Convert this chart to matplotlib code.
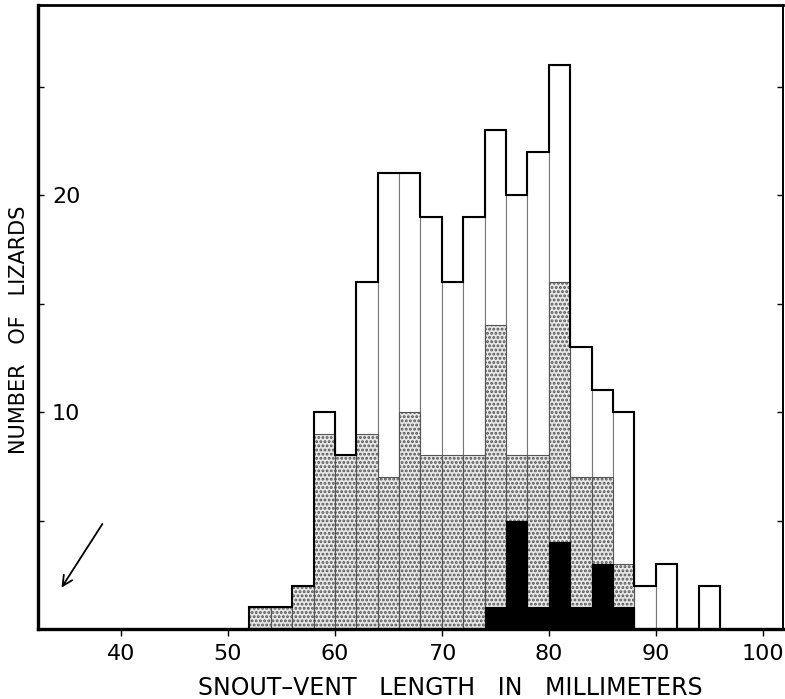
import numpy as np
import matplotlib
matplotlib.use('Agg')
import matplotlib.pyplot as plt

# Snout-vent length histogram, 2 mm classes
bin_starts = [52, 54, 56, 58, 60, 62, 64, 66, 68, 70, 72, 74, 76, 78, 80, 82, 84, 86, 88, 90, 92, 94]
bin_width = 2
total_counts = [1, 1, 2, 10, 8, 16, 21, 21, 19, 16, 19, 23, 20, 22, 26, 13, 11, 10, 2, 3, 0, 2]
stippled_counts = [1, 1, 2, 9, 8, 9, 7, 10, 8, 8, 8, 14, 8, 8, 16, 7, 7, 3, 0, 0, 0, 0]
black_counts = [0, 0, 0, 0, 0, 0, 0, 0, 0, 0, 0, 1, 5, 1, 4, 1, 3, 1, 0, 0, 0, 0]

x_ticks = [40, 50, 60, 70, 80, 90, 100]
y_labeled_ticks = [10, 20]
y_minor_ticks = [5, 15, 25]

plt.rcParams['hatch.linewidth'] = 1.4
plt.rcParams['hatch.color'] = '#2a2a2a'

fig = plt.figure(figsize=(7.85, 6.99), dpi=100)
ax = fig.add_axes([0.0484, 0.1001, 0.9491, 0.8927])

edges = np.array(bin_starts + [bin_starts[-1] + bin_width])

## Bars: white total, stippled subset, black subset
ax.bar(bin_starts, total_counts, width=bin_width, align='edge',
       facecolor='white', edgecolor='#777777', linewidth=0.8, zorder=1)
ax.bar(bin_starts, stippled_counts, width=bin_width, align='edge',
       facecolor='#e8e8e8', edgecolor='#555555', linewidth=0.8, hatch='....', zorder=2)
ax.bar(bin_starts, black_counts, width=bin_width, align='edge',
       facecolor='black', edgecolor='black', linewidth=0.8, zorder=3)

# heavy outer outline
ax.stairs(total_counts, edges, baseline=0, color='black', linewidth=1.5, zorder=4)

# arrow in lower left
ax.annotate('', xy=(34.3, 1.8), xytext=(38.4, 4.95),
            arrowprops=dict(arrowstyle='->', color='black', lw=1.3, mutation_scale=18))

ax.set_xlim(32.24, 101.9)
ax.set_ylim(0, 28.76)

ax.set_xticks(x_ticks)
ax.set_xticklabels([str(t) for t in x_ticks], fontsize=16)
ax.tick_params(axis='x', direction='out', length=5, width=1, pad=6)

ax.set_yticks(y_labeled_ticks)
ax.set_yticks(y_minor_ticks, minor=True)
ax.set_yticklabels([str(t) for t in y_labeled_ticks], fontsize=16)
for lab in ax.get_yticklabels():
    lab.set_horizontalalignment('left')
ax.tick_params(axis='y', which='both', direction='in', length=4, width=1,
               left=True, right=True, pad=-10)

for side, lw in [('left', 2.4), ('bottom', 2.4), ('top', 2.0), ('right', 1.4)]:
    ax.spines[side].set_linewidth(lw)

ax.set_xlabel('SNOUT\u2013VENT   LENGTH   IN   MILLIMETERS', fontsize=17)
ax.xaxis.set_label_coords(0.553, -0.075)
ax.set_ylabel('NUMBER   OF   LIZARDS', fontsize=15)
ax.yaxis.set_label_coords(-0.012, 0.48)

plt.savefig('out.png', dpi=100)
